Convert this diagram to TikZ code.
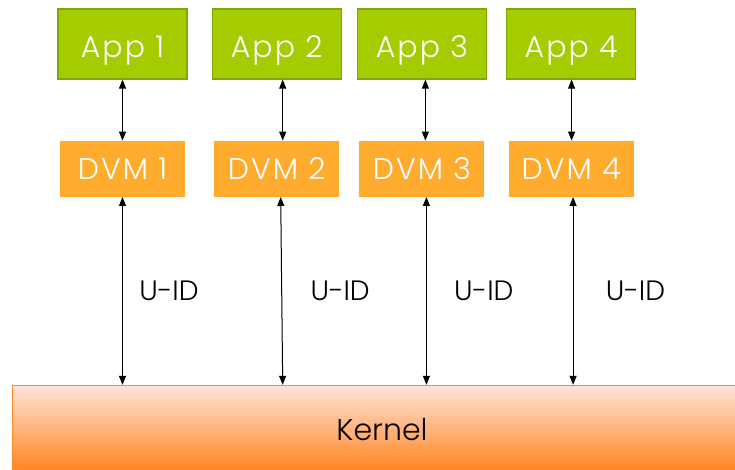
\documentclass[tikz,border=0pt]{standalone}
\usepackage{fontspec}
\setsansfont{Poppins Light}
\newfontfamily\boxfont{Poppins Light}[LetterSpace=7]
\usetikzlibrary{arrows.meta, positioning}
\definecolor{appgreen}{RGB}{165,204,0}
\definecolor{appedge}{RGB}{128,168,0}
\definecolor{dvmorange}{RGB}{255,172,46}
\definecolor{kerneltop}{RGB}{255,228,218}
\definecolor{kernelbottom}{RGB}{255,128,24}
\definecolor{kerneledge}{RGB}{250,140,40}
\tikzstyle{app} = [rectangle, minimum width=129pt, minimum height=70pt, text height=27pt, text depth=0pt, text centered, draw=appedge, line width=1.2pt, fill=appgreen, text=white, font=\boxfont\fontsize{30}{34}\selectfont]
\tikzstyle{dvm} = [rectangle, minimum width=125pt, minimum height=56pt, text centered, fill=dvmorange, text=white, font=\boxfont\fontsize{30}{34}\selectfont]
\tikzstyle{kernel} = [rectangle, minimum width=740pt, minimum height=90pt, draw=kerneledge, top color=kerneltop, bottom color=kernelbottom, font=\sffamily\fontsize{30}{34}\selectfont]
\tikzstyle{uid} = [font=\sffamily\fontsize{28}{32}\selectfont, anchor=west]
\tikzstyle{arrow} = [line width=1pt, {Triangle[length=9pt,width=7pt]}-{Triangle[length=9pt,width=7pt]}]
\begin{document}
\begin{tikzpicture}[node distance=61pt and 24pt]
\useasboundingbox (0,0) rectangle (735pt,-470pt);
\node (app1) [app] at (122.5pt,-44pt) {App 1};
\node (app2) [app, right=24pt of app1] {App 2};
\node (app3) [app, right=15pt of app2] {App 3};
\node (app4) [app, right=19pt of app3] {App 4};
\node (dvm1) [dvm, below=of app1] {DVM 1};
\node (dvm2) [dvm, below=of app2] {DVM 2};
\node (dvm3) [dvm, below=of app3] {DVM 3};
\node (dvm4) [dvm, below=of app4] {DVM 4};
\node (kernel) [kernel] at (382pt,-430pt) {Kernel};

\draw[arrow] (app1.south) -- (dvm1.north);
\draw[arrow] ([xshift=6pt]app2.south) -- ([xshift=6pt]app2.south |- dvm2.north);
\draw[arrow] ([xshift=3.5pt]app3.south) -- ([xshift=3.5pt]app3.south |- dvm3.north);
\draw[arrow] ([xshift=0.5pt]app4.south) -- ([xshift=0.5pt]app4.south |- dvm4.north);

\draw[arrow] (dvm1.south) -- (dvm1.south |- kernel.north) node[uid, midway, xshift=13pt] {U-ID};
\draw[arrow] ([xshift=4pt]dvm2.south) -- ([xshift=6pt]dvm2.south |- kernel.north) node[uid, midway, xshift=25pt] {U-ID};
\draw[arrow] ([xshift=4.5pt]dvm3.south) -- ([xshift=4.5pt]dvm3.south |- kernel.north) node[uid, midway, xshift=24pt] {U-ID};
\draw[arrow] ([xshift=2pt]dvm4.south) -- ([xshift=2pt]dvm4.south |- kernel.north) node[uid, midway, xshift=29pt] {U-ID};
\end{tikzpicture}
\end{document}
